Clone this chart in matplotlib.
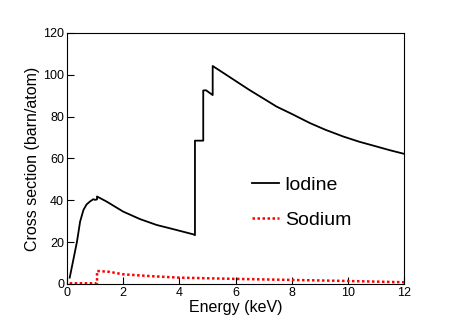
import numpy as np
import matplotlib
matplotlib.use('Agg')
import matplotlib.pyplot as plt

plt.rcParams['font.family'] = ['Liberation Sans', 'DejaVu Sans']

# photoabsorption cross sections
energy_iodine = [0.10, 0.24, 0.36, 0.47, 0.59, 0.70, 0.82, 0.94, 1.0, 1.072, 1.072,
                 1.41, 2.0, 2.6, 3.19, 3.78, 4.5, 4.557, 4.557, 4.852, 4.852,
                 4.95, 5.188, 5.188, 5.6, 6.1, 6.5, 7.0, 7.46, 8.0, 8.65, 9.2,
                 9.83, 10.4, 11.02, 11.5, 12.0]
sigma_iodine = [3.0, 12.3, 20.3, 29.8, 35.4, 38.0, 39.4, 40.5, 40.2, 40.4, 41.8,
                39.4, 34.6, 31.0, 28.2, 26.2, 23.7, 23.3, 68.5, 68.5, 92.5,
                92.6, 90.3, 104.2, 100.6, 96.2, 92.7, 88.6, 84.8, 81.3, 76.9, 73.7,
                70.5, 68.0, 65.7, 63.9, 62.2]

energy_sodium = [0.10, 1.072, 1.072, 1.5, 2.0, 3.0, 4.0, 5.0, 6.0, 8.0, 10.0, 12.0]
sigma_sodium = [0.3, 0.3, 6.2, 5.8, 4.6, 3.7, 3.0, 2.7, 2.4, 1.9, 1.4, 0.8]

x_ticks = [0, 2, 4, 6, 8, 10, 12]
y_ticks = [0, 20, 40, 60, 80, 100, 120]

fig = plt.figure(figsize=(4.49, 3.23), dpi=100)
ax = fig.add_axes([0.149, 0.121, 0.751, 0.777])

ax.plot(energy_iodine, sigma_iodine, color='black', lw=1.3, label='Iodine')
ax.plot(energy_sodium, sigma_sodium, color='red', lw=1.8, linestyle=(0, (1, 1)), label='Sodium')

ax.set_xlim(0, 12)
ax.set_ylim(0, 120)
ax.set_xticks(x_ticks)
ax.set_yticks(y_ticks)
ax.tick_params(direction='in', length=5, labelsize=9, pad=2)
ax.set_xlabel('Energy (keV)', fontsize=11.5, labelpad=1)
ax.set_ylabel('Cross section (barn/atom)', fontsize=11.5, labelpad=2)

ax.legend(loc='upper left', bbox_to_anchor=(0.548, 0.428), frameon=False,
          fontsize=14, handlelength=1.4, handletextpad=0.3, borderpad=0,
          borderaxespad=0, labelspacing=0.88)

fig.savefig('out.png', dpi=100)
